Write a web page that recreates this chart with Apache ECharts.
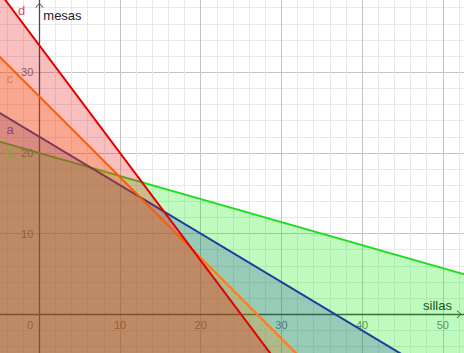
<!DOCTYPE html>
<html><head><meta charset="utf-8">
<script src="https://cdn.jsdelivr.net/npm/echarts@6/dist/echarts.min.js"></script>
<style>html,body{margin:0;padding:0;background:#fff;overflow:hidden}#c{width:464px;height:353px}</style>
</head><body><div id="c"></div>
<script>
// ---- data ----
const xTickLabels = [10, 20, 30, 40, 50];
const yTickLabels = [10, 20, 30];
const originLabel = '0';
// boundary lines (two points each, in data units), drawn in this order
const lineNames = ['b', 'a', 'c', 'd'];
const lineB = [[-6, 21.71], [56, 4]];
const lineA = [[-6, 25.6], [45, -5]];
const lineC = [[-6, 33], [33, -6]];
const lineD = [[-6, 41.33], [30, -6.67]];
// label anchor points for the line names
const labelB = [-3.63, 20.07];
const labelA = [-3.63, 22.84];
const labelC = [-3.63, 29.24];
const labelD = [-2.18, 37.6];
const xAxisName = 'sillas';
const yAxisName = 'mesas';
// axis arrow heads (data units)
const xArrowAt = [52.03, 0];
const yArrowAt = [0, 38.3];

// ---- styling ----
const FONT = '"Liberation Sans", Arial, sans-serif';
const AXIS_COLOR = '#4a4a4a';
const TICK_COLOR = '#505050';
const lineColors = { b: '#22dd22', a: '#1f3c9e', c: '#ff7a10', d: '#e40000' };
const fillColors = { b: '#00f000', a: '#1f3c9e', c: '#ff8000', d: '#e60000' };
const labelColors = { b: '#86a82a', a: '#7a2c88', c: '#e0703a', d: '#dd1111' };
const lineData = { b: lineB, a: lineA, c: lineC, d: lineD };
const labelData = { b: labelB, a: labelA, c: labelC, d: labelD };

const chevron = 'path://M0,9 L5,0 L10,9 L9,10 L5,2.2 L1,10 Z';

function axisCommon() {
  return {
    type: 'value', interval: 10,
    axisLine: { show: true, onZero: true, lineStyle: { color: AXIS_COLOR, width: 1.3 } },
    axisTick: { show: false },
    axisLabel: { show: false },
    splitLine: { show: true, lineStyle: { color: '#c4c4c4', width: 1 } },
    minorTick: { show: false, splitNumber: 5 },
    minorSplitLine: { show: true, lineStyle: { color: '#e8e8e8', width: 1 } }
  };
}

const xAxis = Object.assign(axisCommon(), {
  min: -10, max: 60,
  name: xAxisName, nameLocation: 'end', nameGap: -71.5,
  nameTextStyle: { align: 'right', verticalAlign: 'bottom', color: '#222', fontSize: 13,
    fontFamily: FONT, padding: [0, 0, 2, 0] }
});
const yAxis = Object.assign(axisCommon(), {
  min: -10, max: 40,
  name: yAxisName, nameLocation: 'end', nameGap: -23.5,
  nameTextStyle: { align: 'left', verticalAlign: 'middle', color: '#222', fontSize: 13,
    fontFamily: FONT, padding: [0, 0, 0, 4] }
});

const series = [];
// tick labels (under the fills, like the original)
series.push({
  type: 'scatter', z: 1, symbolSize: 0, silent: true,
  data: xTickLabels.map(v => ({ value: [v, 0], name: String(v) })),
  label: { show: true, position: 'inside', formatter: p => p.name, offset: [0, 10.5],
    align: 'center', verticalAlign: 'middle', color: TICK_COLOR, fontSize: 11, fontFamily: FONT }
});
series.push({
  type: 'scatter', z: 1, symbolSize: 0, silent: true,
  data: yTickLabels.map(v => ({ value: [0, v], name: String(v) })),
  label: { show: true, position: 'inside', formatter: p => p.name, offset: [-6, 0],
    align: 'right', verticalAlign: 'middle', color: TICK_COLOR, fontSize: 11, fontFamily: FONT }
});
series.push({
  type: 'scatter', z: 1, symbolSize: 0, silent: true,
  data: [{ value: [0, 0], name: originLabel }],
  label: { show: true, position: 'inside', formatter: p => p.name, offset: [-9.3, 10.7],
    align: 'center', verticalAlign: 'middle', color: TICK_COLOR, fontSize: 11, fontFamily: FONT }
});
// axis arrow heads
series.push({
  type: 'scatter', z: 1, silent: true, symbol: chevron, symbolSize: [8, 5],
  itemStyle: { color: AXIS_COLOR, opacity: 1 },
  data: [{ value: xArrowAt, symbolRotate: -90 }, { value: yArrowAt, symbolRotate: 0 }]
});
// boundary lines with their half-plane fills
lineNames.forEach((n, i) => series.push({
  type: 'line', name: n, data: lineData[n], z: 2 + i, symbol: 'none', silent: true,
  clip: true,
  lineStyle: { color: lineColors[n], width: 2 },
  areaStyle: { color: fillColors[n], opacity: 0.25, origin: 'start' }
}));
// line names
series.push({
  type: 'scatter', z: 10, symbolSize: 0, silent: true,
  data: lineNames.map(n => ({ value: labelData[n], name: n, label: { color: labelColors[n] } })),
  label: { show: true, position: 'inside', formatter: p => p.name, fontSize: 13, fontFamily: FONT }
});

const chart = echarts.init(document.getElementById('c'), null, { renderer: 'svg' });
chart.setOption({
  animation: false,
  grid: { left: -41.4, right: -59.5, top: -8.5, bottom: -42, containLabel: false, outerBoundsMode: 'none' },
  xAxis: xAxis,
  yAxis: yAxis,
  series: series
});
</script></body></html>
